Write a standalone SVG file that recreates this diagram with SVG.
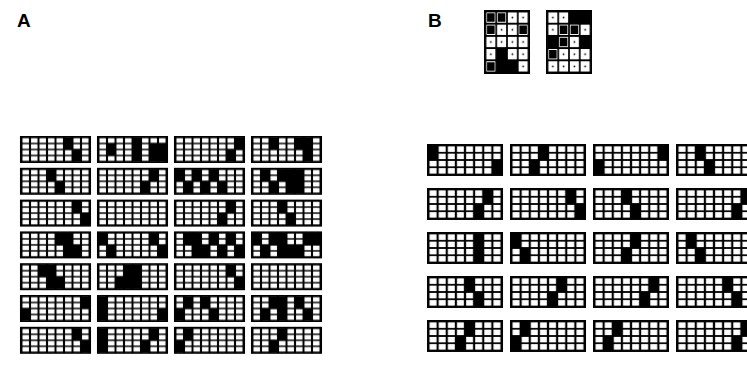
<svg xmlns="http://www.w3.org/2000/svg" xmlns:xlink="http://www.w3.org/1999/xlink" width="747" height="372" viewBox="0 0 747 372">
<style>
.lbl{font-family:"Liberation Sans",Arial,sans-serif;font-weight:bold;font-size:19px;fill:#000}
path{fill:#000}
</style>
<defs>
<pattern id="pa" width="1" height="1" patternUnits="userSpaceOnUse"><rect x="0.12" y="0.12" width="0.76" height="0.76" fill="#fff"/></pattern>
<pattern id="pt" width="1" height="1" patternUnits="userSpaceOnUse"><rect x="0.08" y="0.08" width="0.84" height="0.84" fill="#fff"/><ellipse cx="0.5" cy="0.5" rx="0.08" ry="0.07" fill="#000"/></pattern>
<g id="GA"><rect x="-0.18" y="-0.25" width="8.36" height="4.5"/><rect width="8" height="4" fill="url(#pa)"/></g>
<g id="GB"><rect x="-0.164" y="-0.207" width="8.33" height="4.41"/><rect width="8" height="4" fill="url(#pa)"/></g>
<g id="GT"><rect x="-0.14" y="-0.123" width="4.28" height="5.246"/><rect width="4" height="5" fill="url(#pt)"/></g>
</defs>
<text class="lbl" x="17" y="27">A</text>
<text class="lbl" x="428" y="27">B</text>
<g id="connectors"/>
<!-- Panel A -->
<g id="a11" transform="translate(21.5,137.5) scale(8.5,6)"><use href="#GA"/><path d="M5 0h1v2H5zM6 2h1v2H6z"/></g>
<g id="a12" transform="translate(98.5,137.5) scale(8.5,6)"><use href="#GA"/><path d="M1 1h1v2H1zM4 0h1v4H4zM6 1h2v3H6z"/></g>
<g id="a13" transform="translate(175.5,137.5) scale(8.5,6)"><use href="#GA"/><path d="M7 0h1v2H7zM6 2h1v2H6z"/></g>
<g id="a14" transform="translate(252.5,137.5) scale(8.5,6)"><use href="#GA"/><path d="M2 0h1v2H2zM5 0h2v2H5zM6 2h1v2H6z"/></g>
<g id="a21" transform="translate(21.5,169.3) scale(8.5,6)"><use href="#GA"/><path d="M3 0h1v2H3zM4 2h1v2H4z"/></g>
<g id="a22" transform="translate(98.5,169.3) scale(8.5,6)"><use href="#GA"/><path d="M6 0h1v2H6zM5 2h1v2H5z"/></g>
<g id="a23" transform="translate(175.5,169.3) scale(8.5,6)"><use href="#GA"/><path d="M0 0h1v2H0zM2 0h1v2H2zM4 0h1v2H4zM1 2h1v2H1zM3 2h1v2H3zM5 2h1v2H5z"/></g>
<g id="a24" transform="translate(252.5,169.3) scale(8.5,6)"><use href="#GA"/><path d="M1 0h1v2H1zM3 0h3v2H3zM2 2h1v2H2zM4 2h2v2H4z"/></g>
<g id="a31" transform="translate(21.5,201.1) scale(8.5,6)"><use href="#GA"/><path d="M6 0h1v2H6zM7 2h1v2H7z"/></g>
<g id="a32" transform="translate(98.5,201.1) scale(8.5,6)"><use href="#GA"/></g>
<g id="a33" transform="translate(175.5,201.1) scale(8.5,6)"><use href="#GA"/><path d="M6 0h1v2H6zM5 2h1v2H5z"/></g>
<g id="a34" transform="translate(252.5,201.1) scale(8.5,6)"><use href="#GA"/><path d="M3 0h1v2H3zM4 2h1v2H4z"/></g>
<g id="a41" transform="translate(21.5,232.9) scale(8.5,6)"><use href="#GA"/><path d="M4 0h2v2H4zM5 2h2v2H5z"/></g>
<g id="a42" transform="translate(98.5,232.9) scale(8.5,6)"><use href="#GA"/><path d="M0 0h1v2H0zM6 0h1v2H6zM1 2h1v2H1zM7 2h1v2H7z"/></g>
<g id="a43" transform="translate(175.5,232.9) scale(8.5,6)"><use href="#GA"/><path d="M1 0h2v2H1zM4 0h1v2H4zM6 0h1v2H6zM2 2h2v2H2zM5 2h1v2H5zM7 2h1v2H7z"/></g>
<g id="a44" transform="translate(252.5,232.9) scale(8.5,6)"><use href="#GA"/><path d="M0 0h1v2H0zM2 0h2v2H2zM6 0h2v2H6zM1 2h1v2H1zM3 2h2v2H3zM5 2h1v2H5z"/></g>
<g id="a51" transform="translate(21.5,264.7) scale(8.5,6)"><use href="#GA"/><path d="M2 0h2v2H2zM3 2h2v2H3z"/></g>
<g id="a52" transform="translate(98.5,264.7) scale(8.5,6)"><use href="#GA"/><path d="M3 0h2v2H3zM2 2h3v2H2z"/></g>
<g id="a53" transform="translate(175.5,264.7) scale(8.5,6)"><use href="#GA"/><path d="M6 0h1v2H6zM7 2h1v2H7z"/></g>
<g id="a54" transform="translate(252.5,264.7) scale(8.5,6)"><use href="#GA"/></g>
<g id="a61" transform="translate(21.5,296.5) scale(8.5,6)"><use href="#GA"/><path d="M7 0h1v2H7zM0 2h1v2H0z"/></g>
<g id="a62" transform="translate(98.5,296.5) scale(8.5,6)"><use href="#GA"/><path d="M0 0h1v4H0zM7 2h1v2H7z"/></g>
<g id="a63" transform="translate(175.5,296.5) scale(8.5,6)"><use href="#GA"/><path d="M1 0h1v2H1zM3 0h1v2H3zM0 2h1v2H0zM4 2h1v2H4z"/></g>
<g id="a64" transform="translate(252.5,296.5) scale(8.5,6)"><use href="#GA"/><path d="M2 0h2v2H2zM5 0h1v2H5zM1 2h1v2H1zM3 2h1v2H3zM6 2h1v2H6z"/></g>
<g id="a71" transform="translate(21.5,328.3) scale(8.5,6)"><use href="#GA"/><path d="M6 0h1v2H6zM7 2h1v2H7z"/></g>
<g id="a72" transform="translate(98.5,328.3) scale(8.5,6)"><use href="#GA"/><path d="M0 0h1v4H0zM6 0h1v2H6zM5 2h1v2H5z"/></g>
<g id="a73" transform="translate(175.5,328.3) scale(8.5,6)"><use href="#GA"/><path d="M1 0h1v2H1zM0 2h1v2H0z"/></g>
<g id="a74" transform="translate(252.5,328.3) scale(8.5,6)"><use href="#GA"/><path d="M3 0h1v2H3zM2 2h1v2H2z"/></g>
<!-- Panel B top -->
<g id="bt1" transform="translate(485.5,11.5) scale(10.75,12.2)"><use href="#GT"/><path d="M1 3h1v1H1zM1 4h2v1H1zM0.15 0.15h.7v.7h-.7zM1.15 0.15h.7v.7h-.7zM0.15 1.15h.7v.7h-.7zM3.15 1.15h.7v.7h-.7zM0.15 4.15h.7v.7h-.7z"/></g>
<g id="bt2" transform="translate(547.5,11.5) scale(10.75,12.2)"><use href="#GT"/><path d="M2 0h2v1H2zM0 2h1v1H0zM3 2h1v1H3zM1.15 1.15h.7v.7h-.7zM2.15 1.15h.7v.7h-.7zM1.15 2.15h.7v.7h-.7zM0.15 3.15h.7v.7h-.7z"/></g>
<!-- Panel B bottom -->
<g id="b11" transform="translate(428.5,145.5) scale(9.125,7.25)"><use href="#GB"/><path d="M0 0h1v2H0zM7 2h1v2H7z"/></g>
<g id="b12" transform="translate(511.5,145.5) scale(9.125,7.25)"><use href="#GB"/><path d="M3 0h1v2H3zM2 2h1v2H2z"/></g>
<g id="b13" transform="translate(594.5,145.5) scale(9.125,7.25)"><use href="#GB"/><path d="M7 0h1v2H7zM0 2h1v2H0z"/></g>
<g id="b14" transform="translate(677.5,145.5) scale(9.125,7.25)"><use href="#GB"/><path d="M2 0h1v2H2zM3 2h1v2H3z"/></g>
<g id="b21" transform="translate(428.5,189.5) scale(9.125,7.25)"><use href="#GB"/><path d="M6 0h1v2H6zM5 2h1v2H5z"/></g>
<g id="b22" transform="translate(511.5,189.5) scale(9.125,7.25)"><use href="#GB"/><path d="M6 0h1v2H6zM7 2h1v2H7z"/></g>
<g id="b23" transform="translate(594.5,189.5) scale(9.125,7.25)"><use href="#GB"/><path d="M3 0h1v2H3zM4 2h1v2H4z"/></g>
<g id="b24" transform="translate(677.5,189.5) scale(9.125,7.25)"><use href="#GB"/><path d="M7 0h1v2H7zM6 2h1v2H6z"/></g>
<g id="b31" transform="translate(428.5,233.5) scale(9.125,7.25)"><use href="#GB"/><path d="M5 0h1v2H5zM5 2h1v2H5z"/></g>
<g id="b32" transform="translate(511.5,233.5) scale(9.125,7.25)"><use href="#GB"/><path d="M0 0h1v2H0zM1 2h1v2H1z"/></g>
<g id="b33" transform="translate(594.5,233.5) scale(9.125,7.25)"><use href="#GB"/><path d="M4 0h1v2H4zM3 2h1v2H3z"/></g>
<g id="b34" transform="translate(677.5,233.5) scale(9.125,7.25)"><use href="#GB"/><path d="M1 0h1v2H1zM2 2h1v2H2z"/></g>
<g id="b41" transform="translate(428.5,277.5) scale(9.125,7.25)"><use href="#GB"/><path d="M4 0h1v2H4zM5 2h1v2H5z"/></g>
<g id="b42" transform="translate(511.5,277.5) scale(9.125,7.25)"><use href="#GB"/><path d="M5 0h1v2H5zM4 2h1v2H4z"/></g>
<g id="b43" transform="translate(594.5,277.5) scale(9.125,7.25)"><use href="#GB"/><path d="M6 0h1v2H6zM5 2h1v2H5z"/></g>
<g id="b44" transform="translate(677.5,277.5) scale(9.125,7.25)"><use href="#GB"/><path d="M5 0h1v2H5zM6 2h1v2H6z"/></g>
<g id="b51" transform="translate(428.5,321.5) scale(9.125,7.25)"><use href="#GB"/><path d="M4 0h1v2H4zM3 2h1v2H3z"/></g>
<g id="b52" transform="translate(511.5,321.5) scale(9.125,7.25)"><use href="#GB"/><path d="M1 0h1v2H1zM0 2h1v2H0z"/></g>
<g id="b53" transform="translate(594.5,321.5) scale(9.125,7.25)"><use href="#GB"/><path d="M2 0h1v2H2zM1 2h1v2H1z"/></g>
<g id="b54" transform="translate(677.5,321.5) scale(9.125,7.25)"><use href="#GB"/><path d="M7 0h1v2H7zM6 2h1v2H6z"/></g>
</svg>
